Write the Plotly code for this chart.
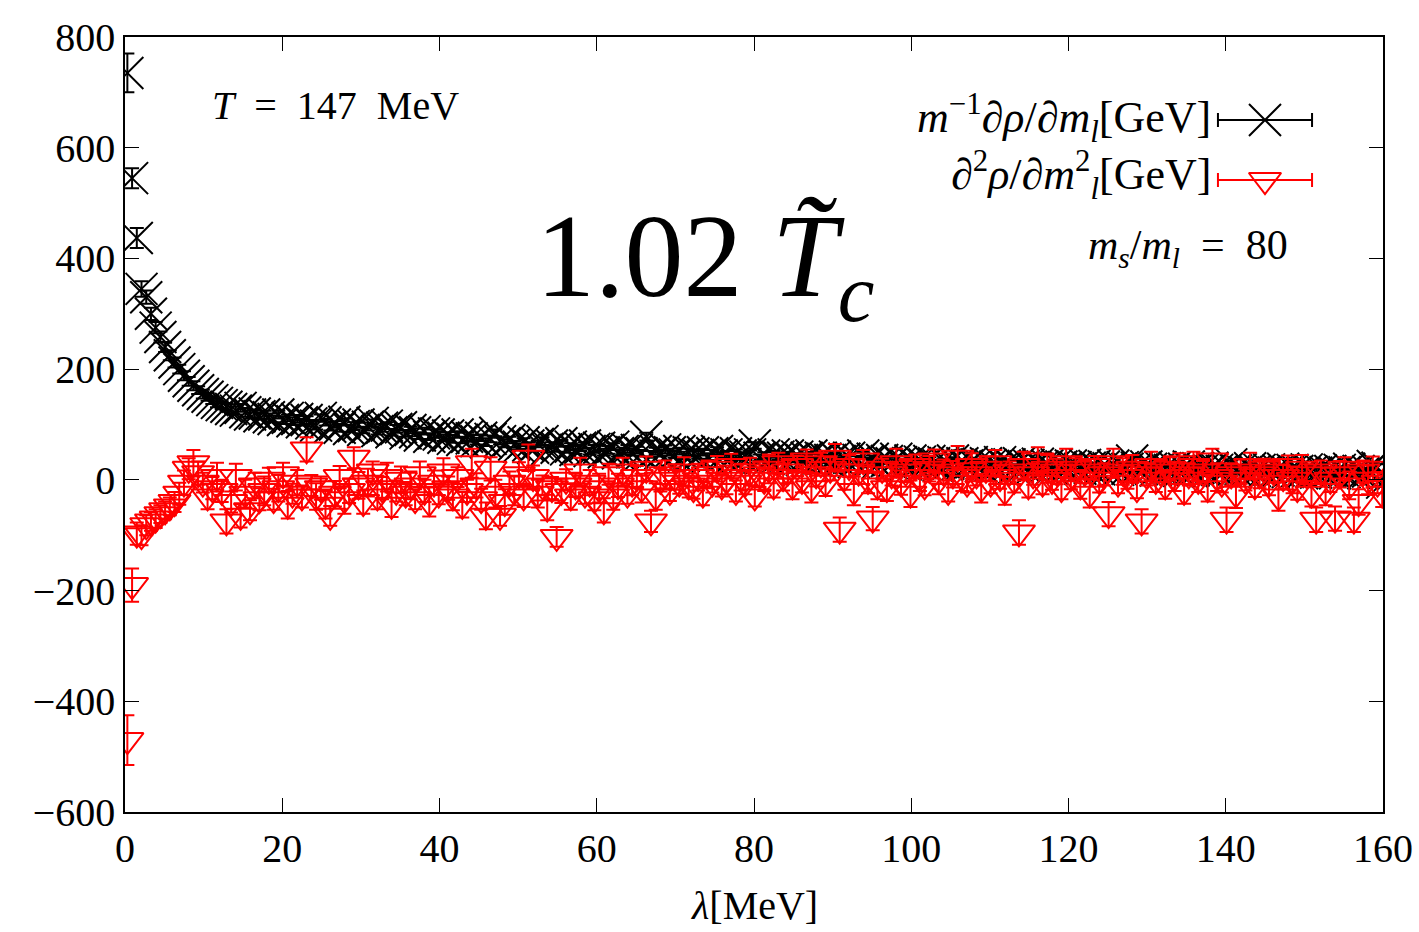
import plotly.graph_objects as go

# lambda bin centres [MeV]
lam = [
    0.3, 0.9, 1.5, 2.1, 2.7, 3.3, 3.9, 4.5, 5.1, 5.7,
    6.3, 6.9, 7.5, 8.1, 8.7, 9.3, 9.9, 10.5, 11.1, 11.7,
    12.3, 12.9, 13.5, 14.1, 14.7, 15.3, 15.9, 16.5, 17.1, 17.7,
    18.3, 18.9, 19.5, 20.1, 20.7, 21.3, 21.9, 22.5, 23.1, 23.7,
    24.3, 24.9, 25.5, 26.1, 26.7, 27.3, 27.9, 28.5, 29.1, 29.7,
    30.3, 30.9, 31.5, 32.1, 32.7, 33.3, 33.9, 34.5, 35.1, 35.7,
    36.3, 36.9, 37.5, 38.1, 38.7, 39.3, 39.9, 40.5, 41.1, 41.7,
    42.3, 42.9, 43.5, 44.1, 44.7, 45.3, 45.9, 46.5, 47.1, 47.7,
    48.3, 48.9, 49.5, 50.1, 50.7, 51.3, 51.9, 52.5, 53.1, 53.7,
    54.3, 54.9, 55.5, 56.1, 56.7, 57.3, 57.9, 58.5, 59.1, 59.7,
    60.3, 60.9, 61.5, 62.1, 62.7, 63.3, 63.9, 64.5, 65.1, 65.7,
    66.3, 66.9, 67.5, 68.1, 68.7, 69.3, 69.9, 70.5, 71.1, 71.7,
    72.3, 72.9, 73.5, 74.1, 74.7, 75.3, 75.9, 76.5, 77.1, 77.7,
    78.3, 78.9, 79.5, 80.1, 80.7, 81.3, 81.9, 82.5, 83.1, 83.7,
    84.3, 84.9, 85.5, 86.1, 86.7, 87.3, 87.9, 88.5, 89.1, 89.7,
    90.3, 90.9, 91.5, 92.1, 92.7, 93.3, 93.9, 94.5, 95.1, 95.7,
    96.3, 96.9, 97.5, 98.1, 98.7, 99.3, 99.9, 100.5, 101.1, 101.7,
    102.3, 102.9, 103.5, 104.1, 104.7, 105.3, 105.9, 106.5, 107.1, 107.7,
    108.3, 108.9, 109.5, 110.1, 110.7, 111.3, 111.9, 112.5, 113.1, 113.7,
    114.3, 114.9, 115.5, 116.1, 116.7, 117.3, 117.9, 118.5, 119.1, 119.7,
    120.3, 120.9, 121.5, 122.1, 122.7, 123.3, 123.9, 124.5, 125.1, 125.7,
    126.3, 126.9, 127.5, 128.1, 128.7, 129.3, 129.9, 130.5, 131.1, 131.7,
    132.3, 132.9, 133.5, 134.1, 134.7, 135.3, 135.9, 136.5, 137.1, 137.7,
    138.3, 138.9, 139.5, 140.1, 140.7, 141.3, 141.9, 142.5, 143.1, 143.7,
    144.3, 144.9, 145.5, 146.1, 146.7, 147.3, 147.9, 148.5, 149.1, 149.7,
    150.3, 150.9, 151.5, 152.1, 152.7, 153.3, 153.9, 154.5, 155.1, 155.7,
    156.3, 156.9, 157.5, 158.1, 158.7, 159.3, 159.9,
]

# m^{-1} d rho / d m_l  [GeV]
black_y = [
    735, 545, 437, 345, 330, 300, 275, 258, 240, 225,
    212, 200, 188, 178, 170, 162, 155, 150, 144, 139,
    135, 132, 128, 125, 130, 122, 118, 120, 115, 118,
    113, 110, 118, 108, 112, 106, 110, 104, 108, 102,
    98, 112, 104, 96, 100, 94, 105, 92, 97, 100,
    90, 96, 103, 88, 94, 98, 86, 92, 95, 84,
    90, 86, 80, 88, 78, 84, 82, 76, 80, 74,
    82, 72, 78, 75, 70, 76, 68, 74, 85, 70,
    66, 72, 64, 60, 68, 62, 58, 65, 70, 56,
    62, 58, 66, 55, 60, 54, 58, 62, 52, 56,
    58, 50, 54, 60, 48, 52, 56, 50, 54, 48,
    78, 46, 52, 48, 55, 50, 46, 52, 44, 50,
    48, 45, 50, 42, 48, 52, 44, 46, 40, 48,
    44, 42, 46, 62, 40, 44, 38, 46, 42, 40,
    44, 38, 42, 36, 40, 44, 35, 40, 38, 36,
    42, 34, 38, 40, 32, 36, 44, 34, 38, 30,
    36, 34, 30, 38, 32, 28, 35, 30, 33, 28,
    34, 30, 26, 32, 29, 35, 28, 30, 26, 32,
    28, 25, 30, 27, 24, 32, 26, 28, 22, 30,
    25, 27, 23, 29, 24, 26, 21, 28, 24, 22,
    26, 23, 20, 27, 22, 25, 19, 24, 21, 26,
    18, 23, 20, 35, 22, 19, 24, 20, 17, 23,
    21, 18, 22, 16, 20, 24, 17, 21, 19, 15,
    22, 18, 16, 20, 28, 17, 19, 14, 21, 16,
    18, 15, 19, 13, 17, 20, 14, 18, 16, 12,
    19, 15, 13, 17, 14, 16, 12, 18, 14, 20,
    13, 16, 12, 15, 25, 22, -5,
]

black_err = [
    35, 18, 18, 14, 12, 11, 10, 10, 9, 9,
    9, 8, 8, 8, 8, 7, 8, 7, 7, 8,
    7, 7, 8, 7, 7, 8, 7, 7, 6, 7,
    7, 6, 7, 7, 6, 7, 7, 6, 7, 6,
    7, 6, 6, 7, 6, 7, 6, 6, 7, 6,
    6, 7, 6, 6, 7, 6, 6, 7, 6, 6,
    6, 7, 6, 6, 6, 7, 6, 6, 6, 7,
    6, 6, 7, 6, 6, 6, 7, 6, 6, 6,
    7, 6, 6, 6, 7, 6, 6, 6, 7, 6,
    6, 7, 6, 6, 6, 7, 6, 6, 6, 7,
    6, 6, 7, 6, 6, 6, 7, 6, 6, 6,
    7, 6, 6, 6, 7, 6, 6, 6, 7, 6,
    6, 7, 6, 6, 6, 7, 6, 6, 6, 7,
    6, 6, 7, 6, 6, 6, 7, 6, 6, 6,
    7, 6, 6, 6, 7, 6, 6, 6, 7, 6,
    6, 7, 6, 6, 6, 7, 6, 6, 6, 7,
    6, 6, 7, 6, 6, 6, 7, 6, 6, 6,
    7, 6, 6, 6, 7, 6, 6, 6, 7, 6,
    6, 7, 6, 6, 6, 7, 6, 6, 6, 7,
    6, 6, 7, 6, 6, 6, 7, 6, 6, 6,
    7, 6, 6, 6, 7, 6, 6, 6, 7, 6,
    6, 7, 6, 6, 6, 7, 6, 6, 6, 7,
    6, 6, 7, 6, 6, 6, 7, 6, 6, 6,
    7, 6, 6, 6, 7, 6, 6, 6, 7, 6,
    6, 7, 6, 6, 6, 7, 6, 6, 6, 7,
    6, 6, 7, 6, 6, 6, 7, 6, 6, 6,
    7, 6, 6, 6, 7, 6, 8,
]

# d^2 rho / d m_l^2  [GeV]
red_y = [
    -470, -190, -97, -100, -82, -75, -70, -62, -55, -48,
    -40, -25, -5, 20, 30, 12, -5, -30, -15, 5,
    -20, -75, -40, 5, -65, -25, -55, -10, -35, -20,
    0, -35, -15, 10, -45, -25, -5, -30, 55, -10,
    -30, -15, -45, -65, -25, 5, -35, -20, 40, -10,
    -40, -5, 15, -30, -15, 5, -45, -20, 0, -25,
    -10, -35, 10, -20, -40, -5, -25, 15, -15, -30,
    5, -45, -20, 30, -10, -35, -65, 20, -25, -65,
    -40, -5, -20, 10, -30, 40, 5, -25, -10, -50,
    -15, -103, -20, 0, -30, -10, 15, -25, -5, -35,
    -15, -55, 10, -30, -10, 15, -25, -5, 5, -15,
    20, -75, -30, 0, 10, -20, 5, -5, 15, -10,
    -15, 5, -25, 10, -5, 20, -10, 0, 25, -20,
    5, -5, 15, -30, 10, 0, 20, -10, 30, 5,
    15, -10, 25, 0, 35, -15, 10, 30, -5, 20,
    40, -90, 5, 25, -20, 15, 35, 0, -70, -10,
    20, -15, 10, 30, -5, 15, -25, 25, 5, -10,
    20, 35, 0, 15, -20, 10, 40, 5, -5, 25,
    10, -15, 20, -5, 30, 5, -20, 15, 0, -95,
    25, -10, 10, 35, -5, 20, 0, 15, -15, 30,
    5, 20, -10, 15, -25, 25, 0, 10, -62, 30,
    -5, 15, 5, 20, -15, -75, 10, 25, 0, 15,
    -10, 20, 5, 30, -20, 10, 25, 0, 15, -15,
    35, 5, -5, -72, 10, -25, 15, 0, 25, -10,
    10, 20, -5, 15, -30, 5, 25, 0, -15, 20,
    10, -25, -72, 15, -20, 0, -70, 10, 20, -10,
    -72, -40, 15, 0, 20, -5, -25,
]

red_err = [
    45, 30, 20, 18, 18, 17, 17, 16, 16, 16,
    18, 20, 22, 19, 24, 21, 18, 23, 20, 26,
    20, 22, 19, 24, 21, 25, 18, 23, 20, 26,
    22, 19, 24, 21, 25, 18, 23, 20, 22, 19,
    24, 21, 25, 18, 23, 20, 26, 22, 19, 24,
    21, 25, 18, 23, 20, 26, 22, 19, 24, 21,
    25, 18, 23, 20, 26, 22, 19, 24, 21, 25,
    18, 23, 20, 26, 22, 19, 24, 21, 25, 18,
    23, 20, 26, 22, 19, 24, 21, 25, 18, 23,
    20, 18, 22, 19, 24, 21, 25, 18, 23, 20,
    26, 22, 19, 24, 21, 25, 18, 23, 20, 26,
    22, 19, 24, 21, 25, 18, 23, 20, 26, 22,
    19, 24, 21, 25, 18, 23, 20, 26, 22, 19,
    24, 21, 25, 18, 23, 20, 26, 22, 19, 24,
    21, 25, 18, 23, 20, 26, 22, 19, 24, 21,
    25, 22, 23, 20, 26, 22, 19, 24, 21, 25,
    18, 23, 20, 26, 22, 19, 24, 21, 25, 18,
    23, 20, 26, 22, 19, 24, 21, 25, 18, 23,
    20, 26, 22, 19, 24, 21, 25, 18, 23, 22,
    26, 22, 19, 24, 21, 25, 18, 23, 20, 26,
    22, 19, 24, 21, 25, 18, 23, 20, 22, 26,
    19, 24, 21, 25, 18, 22, 20, 26, 22, 19,
    24, 21, 25, 18, 23, 20, 26, 22, 19, 24,
    21, 25, 18, 22, 20, 26, 22, 19, 24, 21,
    25, 18, 23, 20, 26, 22, 19, 24, 21, 25,
    18, 23, 22, 20, 26, 22, 22, 24, 21, 25,
    22, 23, 20, 26, 22, 19, 24,
]

x_ticks = [0, 20, 40, 60, 80, 100, 120, 140, 160]
y_ticks = [-600, -400, -200, 0, 200, 400, 600, 800]

FONT = "Liberation Serif"
SP = "\u2002"

black_marker = dict(symbol="x-thin", size=32, color="black",
                    line=dict(width=2, color="black"))
red_marker = dict(symbol="triangle-down-open", size=28, color="red",
                  line=dict(width=2, color="red"))

fig = go.Figure()

fig.add_trace(go.Scatter(
    x=lam, y=black_y, mode="markers", marker=black_marker,
    error_y=dict(type="data", array=black_err, color="black",
                 thickness=2, width=7),
    showlegend=False,
))
fig.add_trace(go.Scatter(
    x=lam, y=red_y, mode="markers", marker=red_marker,
    error_y=dict(type="data", array=red_err, color="red",
                 thickness=2, width=7),
    showlegend=False,
))

# legend samples (overlay axes in plot-fraction units)
fig.add_trace(go.Scatter(
    x=[0.9062], y=[0.8929], xaxis="x2", yaxis="y2", mode="markers",
    marker=black_marker,
    error_x=dict(type="data", array=[0.0374], color="black",
                 thickness=2, width=7),
    showlegend=False, hoverinfo="skip",
))
fig.add_trace(go.Scatter(
    x=[0.9062], y=[0.8155], xaxis="x2", yaxis="y2", mode="markers",
    marker=red_marker,
    error_x=dict(type="data", array=[0.0374], color="red",
                 thickness=2, width=7),
    showlegend=False, hoverinfo="skip",
))

axis_common = dict(
    showgrid=False, zeroline=False, showline=True, linecolor="black",
    linewidth=1.5, mirror="ticks", ticks="inside", ticklen=14,
    tickwidth=1.2, tickcolor="black", automargin=False,
    tickfont=dict(family=FONT, size=40, color="black"),
)

fig.update_layout(
    width=1419, height=932,
    paper_bgcolor="white", plot_bgcolor="white",
    margin=dict(l=125, r=36, t=37, b=120),
    xaxis=dict(range=[0, 160], tickvals=x_ticks, **axis_common),
    yaxis=dict(range=[-600, 800], tickvals=y_ticks, **axis_common),
    xaxis2=dict(overlaying="x", range=[0, 1], visible=False),
    yaxis2=dict(overlaying="y", range=[0, 1], visible=False),
    font=dict(family=FONT, color="black", size=40),
)

ann = [
    dict(text="<i>λ</i>[MeV]", x=0.5, y=-0.12, xanchor="center",
         yanchor="middle", font=dict(size=40)),
    dict(text=f"<i>T</i>{SP}={SP}147{SP}MeV", x=0.0676, y=0.912,
         xanchor="left", yanchor="middle", font=dict(size=40)),
    dict(text="1.02 <i>T̃</i><sub><i>c</i></sub>", x=0.461, y=0.706,
         xanchor="center", yanchor="middle", font=dict(size=118)),
    dict(text=f"<i>m</i><sub><i>s</i></sub>/<i>m</i><sub><i>l</i></sub>{SP}={SP}80",
         x=0.926, y=0.728, xanchor="right", yanchor="middle",
         font=dict(size=42)),
    dict(text="<i>m</i><sup>−1</sup>∂<i>ρ</i>/∂<i>m</i><sub><i>l</i></sub>[GeV]",
         x=0.865, y=0.8955, xanchor="right", yanchor="middle",
         font=dict(size=44)),
    dict(text="∂<sup>2</sup><i>ρ</i>/∂<i>m</i><sup>2</sup><sub><i>l</i></sub>[GeV]",
         x=0.865, y=0.822, xanchor="right", yanchor="middle",
         font=dict(size=44)),
]
for a in ann:
    a.update(xref="paper", yref="paper", showarrow=False)
fig.update_layout(annotations=ann)

fig.write_html("out.html", config={"displayModeBar": False},
               post_script="document.body.style.margin='0';")
